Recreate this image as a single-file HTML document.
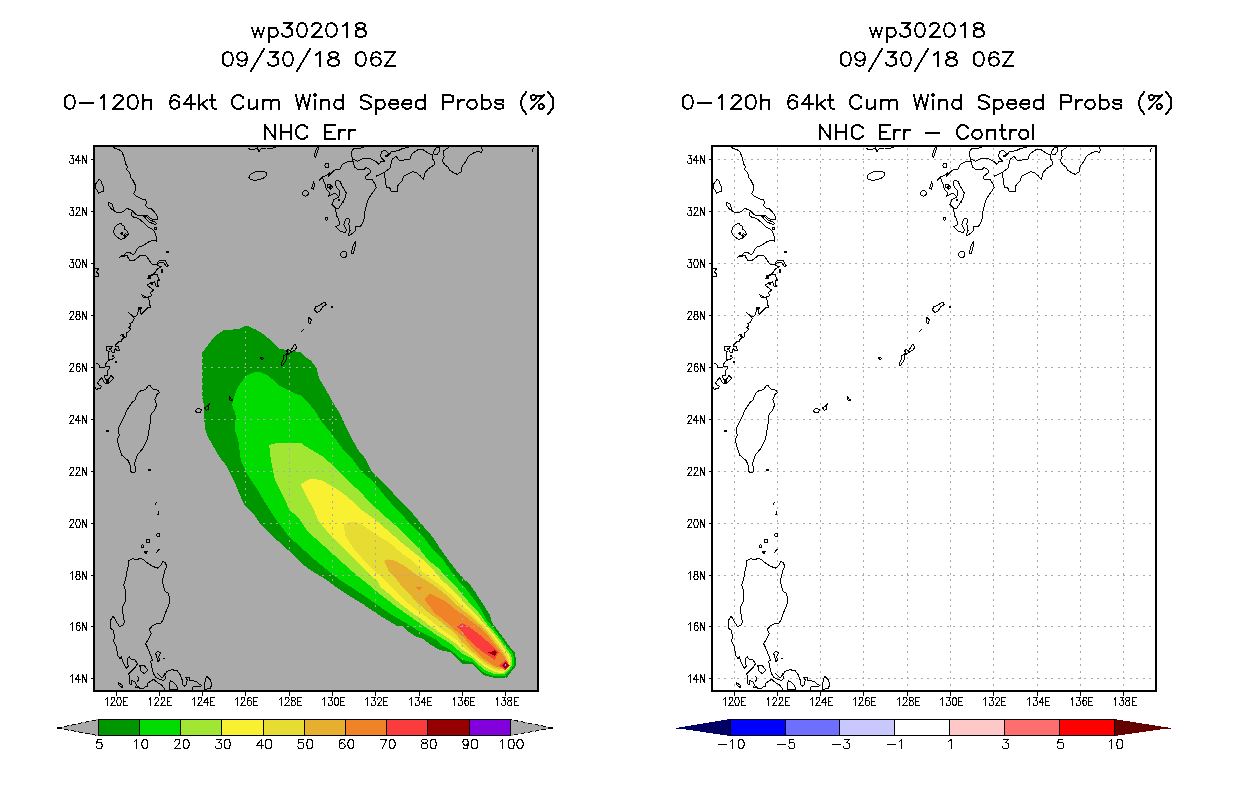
<!DOCTYPE html>
<html lang="en"><head><meta charset="utf-8"><title>wp302018 0-120h 64kt Cum Wind Speed Probs</title>
<style>html,body{margin:0;padding:0;background:#fff}body{width:1236px;height:800px;overflow:hidden;font-family:"Liberation Sans",sans-serif}svg{display:block}.t{font-family:"Liberation Sans",sans-serif;fill:#000;fill-opacity:0;stroke:none}</style></head><body>
<svg width="1236" height="800" viewBox="0 0 1236 800" shape-rendering="crispEdges">
<rect width="1236" height="800" fill="#fff"/>
<defs>
<clipPath id="clipL"><rect x="95" y="147" width="442" height="543"/></clipPath>
<clipPath id="clipR"><rect x="713" y="147" width="442" height="543"/></clipPath>
<g id="coast" fill="none" stroke="#000" stroke-width="1" stroke-linejoin="round" stroke-linecap="square">
<path d="M112.6 146.8 115.1 148.4 119.3 149.7 122.2 152.2 124.3 158.1 125.6 163.9 127.7 167.3 126.4 169 129.8 173.2 130.6 177.3 133.1 180.7 135.6 185.7 135.2 190.7 133.4 193.7 136.9 196.6 141.9 199.1 144.9 199.5 146.5 201.6 145.7 205.4 147.8 207.9 151.1 208.7 154.9 212.6 157 215.9 157.4 219.3 153.7 219.7 150.3 218 147.8 215.9 143.6 215.1 136.9 215.1 134.4 213 132.7 210.5 126.9 208.4 123.5 211.3 119.3 213 116 212.2 113.5 210.1 112.6 204.2 108.4 202.5 108.8 205.9 111.8 209.2 113.5 210.1M132.7 210.5 131 215.1 133.6 217.2 138.6 218.5 143.6 222.6 147.8 226.8 152.8 229.3 155.3 233.5 156.6 237.7 156.2 241.1 152.8 240.2 147.8 242.3 143.6 245.3 139.4 246.9 136.5 249.4 135.6 252.8 133.1 254.5 129.4 252.4 125.2 253.2 124.3 257 121.8 255.7 119.3 257.8 121.8 255.4 126.9 255.4 129.4 260.1 133.6 260.9 140.3 255.4 145.7 255.4 152 264.2 156.2 265.1 159.5 260.1 165.4 260.9 168.3 265.9 167.1 267.2 163.7 262.6 159.5 262.6 157 265.1 161.2 266.8 157 269.3 154.5 273.5 148.6 276 147.8 278.5 152 275.1 157 274.3 158.7 278.5 157 282.7 158.7 286 156.2 286.9 154.5 281.8 151.1 282.7 147 285.2 150.3 287.7 153.7 290.2 150.3 292.7 152 295.6 148.6 296.9 143.6 297.7 141.5 294.4 144.4 296.5 148.6 297.7 149.9 305.3 151.1 307.8 147.8 307.8 141.1 314.5 140.3 310.3 141.9 307 138.6 307.8 137.7 313.7 136.1 316.2 132.7 316.2 128.5 312.8 132.7 315.9 134.4 318.4 131.9 322.6 129.4 323.4 131 325.9 128.5 327.6 131 329.3 128.9 331.4 126.9 332.6 126.9 336.8 124.3 337.2 123.1 334.3 120.6 335.2 121.8 334 123.5 338.5 121 339.8 121.8 341.9 119.3 341.4 116 344.4 115.1 346.9 118.5 346.5 119.3 350.6 116.8 350.2 115.1 348.5 114.3 352.7 111.8 351.9 110.9 349.4 112.6 346 106.8 346.5 106.3 350.6 109.3 351.5 108 355.3 108.4 360.3 111.8 359.4 114.3 357.8 108 361.1 105.9 363.6 105.1 367 99.6 367.4 99.6 365.3 96.7 363.2M105.1 367 109.7 366.7 109.3 368.4 107.2 370.9 107.6 375.1 104.7 375.5 105.1 378.8 108 380.1 110.9 375.5 113.9 378.4 109.3 383 106.3 383.9 104.2 382.2 101.7 377.6 97.5 382.6 98.8 385.1 101.7 386.4 100.1 388.5 97.1 388.1 97.1 390.2 95 387.6M120.5 233.5 123.5 235.5 125.5 233.5 127.5 235M95.9 268.4 98.4 269 96.5 272 98.4 274 98.4 276.8 95.5 276.8M192.2 689.3 193.4 686.1 199.6 686.8 201.5 685.5 199.6 684.3 195.9 681.2 189.7 680.5 189.7 678 185.9 677.4 187.2 679.9 186.6 684.3 184.7 686.1 182.2 684.3 182.2 679.9 180.3 674.9 177.2 670.9 172.2 669.7 167.2 671.2 164.8 674.9 165.4 678.7 163.5 680.5 159.8 679.3 156 677.4 153.5 673.7 151.9 667.5 150.6 661.3 152.5 660 150 653.8 147.5 647.5 145.6 643.8 148.8 638.8 151.3 633.8 149.4 629.4 152.5 625.6 157.5 623.1 160.6 623.8 163.1 620 165.6 612.5 168.8 605 170 598.8 168.1 593.1 165 591.3 162.5 582.5 163.1 577 163.8 575 165 570 166.9 566.3 165 562.5 162.5 561.3 161.3 565 157.5 568.1 152.5 566.3 147.5 563.1 143.8 560 140.6 558.1 136.3 560 133.1 558.5 128.8 560.6 128.1 566.3 126.9 571.3 125.6 579.4 123.8 585 125.6 591.3 125.6 601.3 122.5 606.9 123.1 615 124.4 622.5 122.5 625.6 119.4 626.3 116.3 621.9 114.4 618.1 113.1 616.3 110.6 620 110 628.1 113.1 630 114.4 636.3 113.8 641.3 116.3 646.3 117.5 655 120 658.8 121.3 656.3 123.1 662.5 126.3 668.1 128.1 666.3 127.5 658.8 129.4 656.9 131.3 659.4 135 660 137.5 663.8 135 667.5 128.8 673.8 129.9 678.7 129.6 683.7 131.1 684.9 131.7 680.5 134.9 681.8 136.7 684.9 135.5 687.4 138.6 686.8 139.8 688.6 143.6 688.6 145.4 686.8 147.3 686.1 147.9 683 153.5 679.3 157.3 682.4 161.6 684.9 164.8 689.3M138 676.8 139 679 137.5 681.2M157.9 673.7 160 676 162.3 678 163.5 676 164.8 673.7M248.1 148.6 252.5 149.9 257.5 148 258.8 151.8 261.3 148.6 266.3 148 271.3 148.3 275.6 147.4M318.8 181.1 322.5 176.8 326.3 175.5 329.4 173 328.1 176.8 331.9 172.4 335 169.9 340 169.3 342.5 164.3 347.5 161.8 353.1 161.8 354.4 166.8 357.5 169.3 363.8 169.9 366.3 167.4 370 169.9 370 173 365 176.8 366.3 179.3 372.5 179.9 375 184.3 376.3 187.4 372.5 193 368.8 198 366.3 205.5 364.4 214.3 363.8 221.1 360.6 226.1 355 226.1 355.6 230.5 351.3 234.3 348.1 236.1 350 230.5 348.8 224.3 350 219.3 346.3 218 343.8 224.3 346.3 229.3 345.6 233 340 231.1 335.6 226.8 339.4 224.9 338.8 219.3 336.3 215.5 335.6 208 331.9 204.3 333.8 199.9 338.8 196.8 335 193 328.8 196.1 330 193 326.3 189.3 325 184.3 322.5 178M335.6 208 338.8 208 341.3 204.3 345 198 346.3 193 342.5 186.8 340 181.1 336.3 180.5 335 184 337 188 340 191 338.8 196.8M353.1 161.8 351.9 156.8 351.3 151.8 353.8 148.6 358.8 148.6 363.8 147.4M353.1 159.3 357.5 161.1 362.5 158.6 370 158.6 376.3 161.8 378.8 164.3 381.3 161.1 385 161.8 380.6 156.8 381.3 151.8 385 149.9 388.8 153.6 387 155.5 388.8 155.5 391 151.8 398.5 150.5 402.3 148.6 408.5 147.4M376.3 176.1 384 172.6 390 168 392.3 159.3 396 156.1 399.8 161.1 404.8 159.9 409.8 159.9 411.6 154.3 414.8 151.8 418.5 149.3 423.5 149.9 428.5 153.6 432.3 154.9 432.3 158.6 434.8 161.8 434.1 164.9 428.5 168.6 424.8 173 423.5 179.3 419.8 175.5 416 172.4 412.3 171.8 407.3 174.3 403.5 176.1 402.3 180.5 397.9 185.5 397.3 191.8 391 191.1 389.8 188 386.5 187 385.6 183 384.4 173.2M448.5 147.4 443.5 151.1 444.1 156.8 442.3 160.5 444.8 164.9 447.9 166.8 449.8 170.5 454.1 173 457.3 174.3 461 171.8 462.3 166.1 466 161.1 468.5 156.1 473.5 153 478.5 151.1 481 153 482.3 150.5 481.6 147.4M533.3 148.5 532.5 151M301.5 331.5 303.5 329.7M155 505 156.3 502M158 514.5 159 511M156 553 159 549.5M143.6 215.9 148.6 221.8 154.5 224.3 156.6 223.9 155.3 222.2 150.3 220.1 147 216.8ZM95 184.9 99.2 179.4 100.9 180.7 103.4 187.4 103.4 191.2 100.9 192 98.4 193.3 97.1 189.9 95 188.2ZM113.5 231.4 115 227 117.6 224.3 121 223.5 122.5 225.5 124 226 124.5 229 127 231 128.5 234.4 126 237 124 238.5 121 239.4 116.8 236.9 114.5 234.5ZM149.5 385.1 152.8 388.9 157.8 390.2 159.5 392.7 157 394.3 154.9 399.4 156.6 405.2 154.5 410.3 151.1 414.4 150.3 418.6 150.7 420 149.5 426.7 148.6 433.4 147 440.1 142.8 448.5 137.3 455.2 134.4 463.6 135.6 468.6 134.8 472.6 131.9 472.6 130.6 471.1 130.6 466.9 128.5 461 121.8 455.2 118.5 445.1 117.2 440.1 119.3 435.1 118.1 429.2 119.3 425.9 122.7 420 126.9 410.3 131.9 402.7 134.8 400.2 137.7 393.1 141.1 390.6 145.3 389.7 147.8 386.4ZM139.8 665.6 143.6 665 147.9 670 144.2 673.7 141.1 671.2ZM158.1 651.3 155.6 653.1 156.9 657.5 158.1 661.9 159.4 660 158.8 656.3 160.6 653.1ZM206.5 676.2 210.2 679.9 211.9 684.3 210.2 688.6 204 689.3 204.6 683 205.9 678.7ZM170.4 680.5 172.9 681.8 176 684.9 177.8 689.3 169.7 689.3 169.1 684.9ZM118 682.2 122.4 685.5 122.1 687.6 118.9 684.9ZM146 539 149 539.5 149.5 542 147 542.5ZM144 551 147.5 551 146 553.8ZM318.8 147.4 317.5 151.8 315.6 157.4 314.4 155.5 315.6 150.5 317.5 147.4ZM302.5 192.4 304.4 190.5 307.5 191.1 308.8 194.3 305.6 196.1 302.5 194.9ZM313.8 181.8 312.5 186.1 311.3 188 313.1 189.3 314.4 186.1ZM327.5 184.3 330 184.3 332.5 187 331 189.3 328 187.5ZM436 148 433.5 151.8 434.1 154.3 437.3 154.3 439.8 150.5 439.1 147.4ZM355.6 241.3 355 247.5 353.1 253.8 351.3 253.1 352.5 247.5 354.4 243.1ZM325.6 302.5 326.3 304.4 322.5 306.9 320 311.3 316.9 312.5 314.4 310 315.6 306.9 320 305 323.8 302.5ZM308.8 317.5 311.3 320 310.6 323.1 308.8 323.1 308.1 320ZM294.8 344 296.8 347 295.3 350 291.3 352.1 288.3 354.1 286.3 355.1 286.8 358.1 284.8 362.1 282.8 365.1 281.3 365.1 281.8 362.1 283.3 359.1 283.8 355.6 286.3 354.6 287.8 352.6 286.3 350.5 288.8 349.5 290.3 351.1 292.3 348ZM260.2 358.1 262.2 357.3 263.7 358.3 262.2 359.6ZM229.6 396.2 231.1 399.2 233.1 399.2 232.1 400.7 230.1 400.2 229.1 397.7ZM209.6 403.7 208.6 406.2 208.1 409.7 206.1 410.2 204.5 407.7 207.1 406.7ZM195.5 410.7 198 408.2 201.5 409.7 200.5 412.2 196.5 412.4Z"/>
<ellipse cx="258" cy="175.6" rx="9.2" ry="4.2" transform="rotate(-12 258 175.6)"/>
<ellipse cx="326.9" cy="165.5" rx="2" ry="2" transform="rotate(0 326.9 165.5)"/>
<ellipse cx="343.8" cy="254.4" rx="3" ry="3" transform="rotate(0 343.8 254.4)"/>
<ellipse cx="158.1" cy="535" rx="1.5" ry="1.5" transform="rotate(0 158.1 535)"/>
<ellipse cx="142.5" cy="546.3" rx="1.5" ry="1.5" transform="rotate(0 142.5 546.3)"/>
<ellipse cx="155.3" cy="228.5" rx="1.2" ry="1.2" transform="rotate(0 155.3 228.5)"/>
<ellipse cx="326.3" cy="218.6" rx="1.2" ry="1.6" transform="rotate(20 326.3 218.6)"/>
<rect x="160.5" y="269.5" width="2" height="3" fill="#000" stroke="none"/>
<rect x="157.5" y="279" width="2" height="2" fill="#000" stroke="none"/>
<rect x="156.5" y="284.5" width="2" height="2" fill="#000" stroke="none"/>
<rect x="147.5" y="275.5" width="3" height="3" fill="#000" stroke="none"/>
<rect x="150.5" y="283" width="2" height="2" fill="#000" stroke="none"/>
<rect x="138.5" y="308" width="2" height="2" fill="#000" stroke="none"/>
<rect x="109" y="347.5" width="2" height="2" fill="#000" stroke="none"/>
<rect x="111.5" y="355" width="2" height="2" fill="#000" stroke="none"/>
<rect x="105.5" y="379.5" width="3" height="3" fill="#000" stroke="none"/>
<rect x="385" y="154.5" width="3" height="2" fill="#000" stroke="none"/>
<rect x="329" y="185.5" width="2" height="2" fill="#000" stroke="none"/>
<rect x="338" y="199" width="2" height="2" fill="#000" stroke="none"/>
<rect x="342" y="201" width="2" height="2" fill="#000" stroke="none"/>
<rect x="121" y="231.5" width="2" height="2" fill="#000" stroke="none"/>
<rect x="124" y="234.5" width="2" height="2" fill="#000" stroke="none"/>
<rect x="165.6" y="250.7" width="3" height="2" fill="#000" stroke="none"/>
<rect x="161" y="269.1" width="2" height="2" fill="#000" stroke="none"/>
<rect x="114.5" y="361.3" width="2" height="2" fill="#000" stroke="none"/>
<rect x="105.7" y="429.5" width="3" height="2" fill="#000" stroke="none"/>
<rect x="148" y="468.8" width="3" height="2" fill="#000" stroke="none"/>
<rect x="162.8" y="657.6" width="2" height="1" fill="#000" stroke="none"/>
<rect x="330.9" y="305.9" width="2" height="2" fill="#000" stroke="none"/>
</g>
<path id="grid" d="M116.5 692.4V147M159.5 692.4V147M202.5 692.4V147M245.5 692.4V147M289.5 692.4V147M332.5 692.4V147M375.5 692.4V147M419.5 692.4V147M462.5 692.4V147M505.5 692.4V147M93.26 159.5H537M93.26 211.5H537M93.26 263.5H537M93.26 315.5H537M93.26 367.5H537M93.26 419.5H537M93.26 471.5H537M93.26 523.5H537M93.26 575.5H537M93.26 626.5H537M93.26 678.5H537" fill="none" stroke="#aaa" stroke-width="1" stroke-dasharray="2 4.54"/>
<g id="frame" fill="none" stroke="#000"><path d="M116.5 692V696M159.5 692V696M202.5 692V696M245.5 692V696M289.5 692V696M332.5 692V696M375.5 692V696M419.5 692V696M462.5 692V696M505.5 692V696M90.5 159.5H93M90.5 211.5H93M90.5 263.5H93M90.5 315.5H93M90.5 367.5H93M90.5 419.5H93M90.5 471.5H93M90.5 523.5H93M90.5 575.5H93M90.5 626.5H93M90.5 678.5H93" stroke-width="1"/><rect x="94" y="146" width="444" height="545" stroke-width="2"/></g>
<path id="axlab" d="M105.5 699.5 106.5 698.5 107.5 697.5 107.5 705.5M111.5 699.5 111.5 698.5 111.5 697.5 112.5 697.5 113.5 697.5 114.5 697.5 114.5 698.5 114.5 699.5 114.5 700.5 113.5 701.5 110.5 705.5 115.5 705.5M118.5 697.5 117.5 697.5 117.5 699.5 116.5 700.5 116.5 702.5 117.5 703.5 117.5 705.5 118.5 705.5 119.5 705.5 120.5 705.5 120.5 703.5 121.5 702.5 121.5 700.5 120.5 699.5 120.5 697.5 119.5 697.5 118.5 697.5M123.5 697.5 123.5 705.5M123.5 697.5 127.5 697.5M123.5 701.5 125.5 701.5M123.5 705.5 127.5 705.5M149.5 699.5 149.5 698.5 150.5 697.5 150.5 705.5M154.5 699.5 155.5 698.5 155.5 697.5 156.5 697.5 157.5 697.5 158.5 698.5 158.5 699.5 158.5 700.5 157.5 701.5 154.5 705.5 158.5 705.5M161.5 699.5 161.5 698.5 161.5 697.5 162.5 697.5 163.5 697.5 164.5 697.5 164.5 698.5 164.5 699.5 164.5 700.5 163.5 701.5 160.5 705.5 165.5 705.5M167.5 697.5 167.5 705.5M167.5 697.5 171.5 697.5M167.5 701.5 169.5 701.5M167.5 705.5 171.5 705.5M192.5 699.5 193.5 698.5 194.5 697.5 194.5 705.5M198.5 699.5 198.5 698.5 198.5 697.5 199.5 697.5 200.5 697.5 201.5 697.5 201.5 698.5 201.5 699.5 201.5 700.5 200.5 701.5 197.5 705.5 202.5 705.5M207.5 697.5 203.5 702.5 208.5 702.5M207.5 697.5 207.5 705.5M210.5 697.5 210.5 705.5M210.5 697.5 214.5 697.5M210.5 701.5 212.5 701.5M210.5 705.5 214.5 705.5M235.5 699.5 236.5 698.5 237.5 697.5 237.5 705.5M241.5 699.5 241.5 698.5 241.5 697.5 242.5 697.5 243.5 697.5 244.5 697.5 244.5 698.5 244.5 699.5 244.5 700.5 243.5 701.5 240.5 705.5 245.5 705.5M251.5 698.5 250.5 697.5 249.5 697.5 248.5 697.5 247.5 699.5 247.5 700.5 247.5 702.5 247.5 704.5 248.5 705.5 249.5 705.5 250.5 705.5 251.5 704.5 251.5 703.5 251.5 702.5 251.5 701.5 250.5 700.5 249.5 700.5 248.5 700.5 247.5 701.5 247.5 702.5M253.5 697.5 253.5 705.5M253.5 697.5 257.5 697.5M253.5 701.5 256.5 701.5M253.5 705.5 257.5 705.5M279.5 699.5 280.5 698.5 281.5 697.5 281.5 705.5M285.5 699.5 285.5 698.5 285.5 697.5 286.5 697.5 287.5 697.5 288.5 697.5 288.5 698.5 289.5 699.5 288.5 700.5 288.5 701.5 284.5 705.5 289.5 705.5M292.5 697.5 291.5 697.5 291.5 698.5 291.5 699.5 291.5 700.5 292.5 700.5 293.5 700.5 294.5 701.5 295.5 702.5 295.5 703.5 295.5 704.5 294.5 705.5 293.5 705.5 292.5 705.5 291.5 705.5 291.5 704.5 291.5 703.5 291.5 702.5 292.5 701.5 293.5 700.5 294.5 700.5 295.5 699.5 295.5 698.5 294.5 697.5 293.5 697.5 292.5 697.5M297.5 697.5 297.5 705.5M297.5 697.5 301.5 697.5M297.5 701.5 300.5 701.5M297.5 705.5 301.5 705.5M322.5 699.5 323.5 698.5 324.5 697.5 324.5 705.5M328.5 697.5 332.5 697.5 330.5 700.5 331.5 700.5 332.5 701.5 332.5 702.5 332.5 703.5 332.5 704.5 331.5 705.5 330.5 705.5 329.5 705.5 328.5 705.5 328.5 704.5 328.5 703.5M336.5 697.5 335.5 697.5 334.5 699.5 334.5 700.5 334.5 702.5 334.5 703.5 335.5 705.5 336.5 705.5 337.5 705.5 338.5 703.5 338.5 702.5 338.5 700.5 338.5 699.5 337.5 697.5 336.5 697.5M340.5 697.5 340.5 705.5M340.5 697.5 344.5 697.5M340.5 701.5 343.5 701.5M340.5 705.5 344.5 705.5M365.5 699.5 366.5 698.5 367.5 697.5 367.5 705.5M371.5 697.5 375.5 697.5 373.5 700.5 374.5 700.5 375.5 701.5 375.5 702.5 375.5 703.5 375.5 704.5 374.5 705.5 373.5 705.5 372.5 705.5 371.5 705.5 371.5 704.5 371.5 703.5M377.5 699.5 377.5 698.5 378.5 697.5 380.5 697.5 381.5 698.5 381.5 699.5 381.5 700.5 380.5 701.5 377.5 705.5 381.5 705.5M383.5 697.5 383.5 705.5M383.5 697.5 387.5 697.5M383.5 701.5 386.5 701.5M383.5 705.5 387.5 705.5M409.5 699.5 410.5 698.5 411.5 697.5 411.5 705.5M415.5 697.5 419.5 697.5 417.5 700.5 418.5 700.5 419.5 701.5 419.5 702.5 419.5 703.5 419.5 704.5 418.5 705.5 417.5 705.5 416.5 705.5 415.5 705.5 415.5 704.5 415.5 703.5M424.5 697.5 421.5 702.5 425.5 702.5M424.5 697.5 424.5 705.5M427.5 697.5 427.5 705.5M427.5 697.5 431.5 697.5M427.5 701.5 430.5 701.5M427.5 705.5 431.5 705.5M453.5 699.5 453.5 698.5 454.5 697.5 454.5 705.5M458.5 697.5 462.5 697.5 460.5 700.5 461.5 700.5 462.5 701.5 462.5 702.5 462.5 703.5 462.5 704.5 461.5 705.5 460.5 705.5 459.5 705.5 458.5 705.5 458.5 704.5 458.5 703.5M468.5 698.5 468.5 697.5 467.5 697.5 466.5 697.5 465.5 697.5 465.5 699.5 464.5 700.5 464.5 702.5 465.5 704.5 465.5 705.5 466.5 705.5 467.5 705.5 468.5 704.5 468.5 703.5 468.5 702.5 468.5 701.5 467.5 700.5 466.5 700.5 465.5 700.5 465.5 701.5 464.5 702.5M470.5 697.5 470.5 705.5M470.5 697.5 474.5 697.5M470.5 701.5 473.5 701.5M470.5 705.5 474.5 705.5M496.5 699.5 496.5 698.5 497.5 697.5 497.5 705.5M502.5 697.5 505.5 697.5 503.5 700.5 504.5 700.5 505.5 700.5 505.5 701.5 505.5 702.5 505.5 703.5 505.5 704.5 504.5 705.5 503.5 705.5 502.5 705.5 501.5 704.5 501.5 703.5M509.5 697.5 508.5 697.5 507.5 698.5 507.5 699.5 508.5 700.5 510.5 700.5 510.5 701.5 511.5 702.5 511.5 703.5 511.5 704.5 511.5 705.5 510.5 705.5 509.5 705.5 508.5 705.5 507.5 704.5 507.5 703.5 507.5 702.5 508.5 701.5 509.5 700.5 510.5 700.5 511.5 700.5 511.5 699.5 511.5 698.5 511.5 697.5 510.5 697.5 509.5 697.5M514.5 697.5 514.5 705.5M514.5 697.5 518.5 697.5M514.5 701.5 516.5 701.5M514.5 705.5 518.5 705.5M70.5 155.5 73.5 155.5 71.5 158.5 72.5 158.5 73.5 158.5 73.5 159.5 73.5 160.5 73.5 161.5 73.5 162.5 73.5 163.5 72.5 163.5 71.5 163.5 70.5 163.5 69.5 162.5 69.5 161.5M78.5 155.5 75.5 160.5 80.5 160.5M78.5 155.5 78.5 163.5M82.5 155.5 82.5 163.5M82.5 155.5 86.5 163.5M86.5 155.5 86.5 163.5M70.5 207.5 73.5 207.5 71.5 210.5 72.5 210.5 73.5 210.5 73.5 211.5 73.5 212.5 73.5 213.5 73.5 214.5 73.5 215.5 72.5 215.5 71.5 215.5 70.5 215.5 69.5 214.5 69.5 213.5M76.5 209.5 76.5 208.5 76.5 207.5 77.5 207.5 78.5 207.5 79.5 207.5 79.5 208.5 79.5 209.5 79.5 210.5 78.5 211.5 75.5 215.5 80.5 215.5M82.5 207.5 82.5 215.5M82.5 207.5 86.5 215.5M86.5 207.5 86.5 215.5M70.5 259.5 73.5 259.5 71.5 262.5 72.5 262.5 73.5 262.5 73.5 263.5 73.5 264.5 73.5 265.5 73.5 266.5 73.5 267.5 72.5 267.5 71.5 267.5 70.5 267.5 69.5 266.5 69.5 265.5M77.5 259.5 76.5 259.5 76.5 261.5 75.5 262.5 75.5 264.5 76.5 265.5 76.5 267.5 77.5 267.5 78.5 267.5 79.5 267.5 79.5 265.5 80.5 264.5 80.5 262.5 79.5 261.5 79.5 259.5 78.5 259.5 77.5 259.5M82.5 259.5 82.5 267.5M82.5 259.5 86.5 267.5M86.5 259.5 86.5 267.5M69.5 313.5 70.5 312.5 70.5 311.5 71.5 311.5 72.5 311.5 73.5 311.5 73.5 312.5 73.5 313.5 73.5 314.5 72.5 315.5 69.5 319.5 73.5 319.5M77.5 311.5 76.5 311.5 76.5 312.5 76.5 313.5 76.5 314.5 77.5 314.5 78.5 314.5 79.5 315.5 79.5 316.5 80.5 316.5 80.5 317.5 79.5 318.5 79.5 319.5 78.5 319.5 77.5 319.5 76.5 319.5 76.5 318.5 75.5 317.5 75.5 316.5 76.5 316.5 76.5 315.5 77.5 314.5 78.5 314.5 79.5 314.5 79.5 313.5 79.5 312.5 79.5 311.5 78.5 311.5 77.5 311.5M82.5 311.5 82.5 319.5M82.5 311.5 86.5 319.5M86.5 311.5 86.5 319.5M69.5 365.5 70.5 364.5 70.5 363.5 71.5 363.5 72.5 363.5 73.5 363.5 73.5 364.5 73.5 365.5 73.5 366.5 72.5 367.5 69.5 371.5 73.5 371.5M79.5 364.5 79.5 363.5 78.5 363.5 77.5 363.5 76.5 365.5 76.5 366.5 76.5 368.5 76.5 370.5 77.5 371.5 78.5 371.5 79.5 371.5 79.5 370.5 80.5 369.5 80.5 368.5 79.5 367.5 79.5 366.5 78.5 366.5 77.5 366.5 76.5 367.5 76.5 368.5M82.5 363.5 82.5 371.5M82.5 363.5 86.5 371.5M86.5 363.5 86.5 371.5M69.5 417.5 70.5 416.5 70.5 415.5 71.5 415.5 72.5 415.5 73.5 415.5 73.5 416.5 73.5 417.5 73.5 418.5 72.5 419.5 69.5 423.5 73.5 423.5M78.5 415.5 75.5 420.5 80.5 420.5M78.5 415.5 78.5 423.5M82.5 415.5 82.5 423.5M82.5 415.5 86.5 423.5M86.5 415.5 86.5 423.5M69.5 469.5 70.5 468.5 70.5 467.5 71.5 467.5 72.5 467.5 73.5 467.5 73.5 468.5 73.5 469.5 73.5 470.5 72.5 471.5 69.5 475.5 73.5 475.5M76.5 469.5 76.5 468.5 76.5 467.5 77.5 467.5 78.5 467.5 79.5 467.5 79.5 468.5 79.5 469.5 79.5 470.5 78.5 471.5 75.5 475.5 80.5 475.5M82.5 467.5 82.5 475.5M82.5 467.5 86.5 475.5M86.5 467.5 86.5 475.5M69.5 521.5 70.5 520.5 70.5 519.5 71.5 519.5 72.5 519.5 73.5 519.5 73.5 520.5 73.5 521.5 73.5 522.5 72.5 523.5 69.5 527.5 73.5 527.5M77.5 519.5 76.5 519.5 76.5 521.5 75.5 522.5 75.5 524.5 76.5 525.5 76.5 527.5 77.5 527.5 78.5 527.5 79.5 527.5 79.5 525.5 80.5 524.5 80.5 522.5 79.5 521.5 79.5 519.5 78.5 519.5 77.5 519.5M82.5 519.5 82.5 527.5M82.5 519.5 86.5 527.5M86.5 519.5 86.5 527.5M70.5 573.5 71.5 572.5 72.5 571.5 72.5 579.5M77.5 571.5 76.5 571.5 76.5 572.5 76.5 573.5 76.5 574.5 77.5 574.5 78.5 574.5 79.5 575.5 79.5 576.5 80.5 576.5 80.5 577.5 79.5 578.5 79.5 579.5 78.5 579.5 77.5 579.5 76.5 579.5 76.5 578.5 75.5 577.5 75.5 576.5 76.5 576.5 76.5 575.5 77.5 574.5 78.5 574.5 79.5 574.5 79.5 573.5 79.5 572.5 79.5 571.5 78.5 571.5 77.5 571.5M82.5 571.5 82.5 579.5M82.5 571.5 86.5 579.5M86.5 571.5 86.5 579.5M70.5 624.5 71.5 623.5 72.5 622.5 72.5 630.5M79.5 623.5 79.5 622.5 78.5 622.5 77.5 622.5 76.5 624.5 76.5 625.5 76.5 627.5 76.5 629.5 77.5 630.5 78.5 630.5 79.5 630.5 79.5 629.5 80.5 628.5 80.5 627.5 79.5 626.5 79.5 625.5 78.5 625.5 77.5 625.5 76.5 626.5 76.5 627.5M82.5 622.5 82.5 630.5M82.5 622.5 86.5 630.5M86.5 622.5 86.5 630.5M70.5 676.5 71.5 675.5 72.5 674.5 72.5 682.5M78.5 674.5 75.5 679.5 80.5 679.5M78.5 674.5 78.5 682.5M82.5 674.5 82.5 682.5M82.5 674.5 86.5 682.5M86.5 674.5 86.5 682.5" fill="none" stroke="#000" stroke-width="1" stroke-linecap="square" stroke-linejoin="round"/>
</defs>
<rect x="94" y="146" width="444" height="545" fill="#aaaaaa"/>
<g clip-path="url(#clipL)">
<path d="M245 325.8 248.3 326.3 256.7 330 264.7 335 270.3 340 279.3 348.5 286.3 350 300.4 352.1 305.4 357.1 311.4 361.1 316.7 368.3 319.2 378.3 325 388 332.5 401.7 340.8 415 346 427 352.5 440 358.3 450 365 458.3 370.8 470 375.8 475.8 389.2 488.3 396.7 497.5 408.3 508.3 420 522.5 432.5 536.7 440 548.3 448.3 560 458.3 573 464.9 580 470.2 584.9 475.9 593 480 599.5 490 615 491.2 620 493.6 624.9 498.5 631.4 504.2 638.7 509.1 646 514.7 652.1 516 659.8 515.5 666.3 506.6 677.7 493.6 677.7 483.9 675.2 472.5 664.3 461.9 663.9 450.6 652.1 440 650.1 430.4 644.6 422.2 638.5 414.9 636 406.8 630.4 402.7 626.7 396.2 625.5 388.1 620.6 380 615.7 375 612.5 362.5 603.8 350 596.3 337.5 588.1 325 578.8 312.5 571.3 302.5 564.4 295 556.3 282.5 545 270 533.8 259.2 522.5 253.3 513.3 244.2 505 235 483.3 225.8 465 219.2 456.7 212 444 208 437 205 428.3 204 414.8 203.5 403.2 201.5 395.2 201.5 361.1 202 353.1 205 349 213.1 338 216.1 335 224.2 330 238.3 329.2Z" fill="#009600"/>
<path d="M256.2 371.6 260.2 372.1 267.2 375.1 273.3 380.1 278.3 385.2 286.3 389.2 294.3 393.2 300.4 395.2 307.4 402.2 314 409.2 321.7 421.7 333.3 435.8 340.8 446.7 352.5 459.2 362.5 472.5 373.3 481.7 386.7 498.3 397.5 510 410 523.3 423.3 536.7 433.3 550 443.3 560 453.3 574.2 458 580 465.3 588.1 471.8 596.2 480 607.6 486.7 620 490.4 624.1 496.1 631.4 501.7 638.7 507.4 646.8 513.1 653.3 514.3 659.8 513.5 666.3 505 676.1 494.4 676.1 483.9 672.8 472.5 662.2 461.9 659.8 449.7 649.2 441 644.8 436.9 640.1 428.7 636 420.6 632 412.5 627.1 404.4 622.2 396.2 617.4 388.1 612.5 380 606.8 377.5 605 365 596.3 352.5 588.1 340 580 328.8 571.3 315 560 302.5 548.8 288.8 536.3 276.3 520 265 502.5 256.7 488.3 246.7 473.3 240.8 460 238.3 440 235 430 235.7 416 234.6 411.2 232.1 405.2 233.1 400.2 234.6 395.2 237.2 388.2 242.2 381.1 246.2 376.1 252.2 373.1Z" fill="#00dc00"/>
<path d="M269.2 445 278.3 442.5 300.8 443 306.7 447 321.7 455.8 331.7 464.2 340 472.5 350 482.5 360 491.7 370.8 503.3 381.7 513.3 395 525 406.7 536.7 418.3 547.5 428.3 560 438.3 568 449 580 457.2 588.1 464.5 597.1 471.8 605.2 480 614.1 483.9 620 487.1 624.1 493.6 631.4 499.3 638.7 505 646.8 510.7 654.1 512.3 659.8 511.5 666.3 504.2 674.4 495.2 674.4 483.9 669.6 472.5 659 461.9 653.3 451 644 445 640.1 436.9 635.2 428.7 629.5 420.6 623.9 412.5 618.2 404.4 612.5 396.2 606.8 388.1 600.3 380 594.4 367.5 583.8 355 573.8 343.8 563.8 331.3 552.5 320 542.5 307.5 531.3 300 520 296.7 515.8 290 510.8 283.3 496.7 275 480 270.8 460Z" fill="#a0e632"/>
<path d="M300.8 484.2 310 478.7 321.7 480 328.3 484.2 338.3 490 348.3 497.5 361.7 510 375.8 520 390 532.5 403.3 544.2 415 553.3 423.3 560 431.7 568 441.7 580 449.9 587.3 458 595.4 466.1 604.4 473.4 611.7 477.5 615.5 481.5 621 485.5 624.9 492 632.2 497.7 639.5 503.4 647.6 509.1 654.9 510.7 660.6 509.9 666.3 504.2 672.8 495.2 672.4 483.9 666.3 472.5 656.6 461.9 649.2 455 643 445 636 436.9 630.4 428.7 624.7 420.6 618.2 412.5 613.3 404.4 606.8 396.2 600.3 388.1 593 380 586.5 377.5 581.3 366.3 571.3 355 560 343.8 548.8 332.5 537.5 323.8 527.5 318.1 520 313.3 508.3 306.7 496.7Z" fill="#faf032"/>
<path d="M343.8 523.8 355 521.5 362.5 525 375 533.8 382.5 538.8 388.3 541.7 401.7 553.3 411.7 560 423.3 572.5 432.8 580 441.7 586.5 449.9 593.8 457.2 601.1 465.3 608.4 472.6 614.9 477.4 620 483.9 625.7 490.4 633 496.1 640.3 501.7 647.6 507.4 655.7 509.1 661.4 508.6 666.3 504.2 671.2 495.2 670.4 483.9 663.9 472.5 654.1 461.9 646 457.2 640.1 449 634.4 440.9 628.7 432.8 622.2 424.7 615.7 416.6 610 408.4 603.6 400.3 595.4 392.2 587.3 384.9 580 376.3 572.5 365 561.3 353.8 548.8 345 535Z" fill="#e6dc32"/>
<path d="M384.4 561.3 386.9 559.4 395 560.6 405 566.3 415 573.8 425.5 580 432 584.1 438.5 588.9 445.8 594.6 451.5 600.3 458 606 464.5 611.7 471 616.6 474.1 620 482.2 626.5 488.7 633.8 494.4 641.1 500.1 648.4 505.8 656.6 507.8 662.2 507.4 666.3 504.2 669.6 495.2 668.3 483.9 661.4 472.5 651.7 461.9 642 454.7 632.8 446.6 626.3 438.5 619.8 430.4 614.1 422.2 606.8 414.9 600.3 408.4 593 401.1 585.7 397 580 388.8 571.3Z" fill="#e6af2d"/>
<path d="M429.6 593.4 436.9 597.1 445 601.1 451.5 606 458 611.7 464.5 615.7 471 621 480.6 628.1 487.1 634.6 492.8 641.9 498.5 649.2 504.2 656.6 506.6 662.2 506.2 665.9 503.4 668.3 495.2 666.3 483.9 659 472.5 648 464.5 638 457.2 632 449.9 625.5 441.7 618.2 434.4 613.3 430.4 606.8 424.3 599.9Z" fill="#f08228"/>
<path d="M462.3 623.2 467.6 625.7 474.1 630.6 480.6 635.4 487.1 641.1 492.8 646.8 496.9 650.9 498.5 652.5 496.9 655.7 494.4 659.8 488.7 655.7 482.2 651.7 474.9 645.2 467.6 638.7 462.7 632.2 457.5 626.5Z" fill="#fa3c3c"/>
<path d="M487.9 652.5 492 651.7 494.8 650.1 496.9 652.5 494.8 655.7 492 654.5Z" fill="#960000"/>
<path d="M499 665.5 505.5 660 510 665.5 505.5 670.5Z" fill="#fa3c3c"/>
<path d="M502 665.5 505.5 662.1 508.7 665.5 505.5 668.7Z" fill="#960000"/>
<path d="M504 665.5 505.5 664 507 665.5 505.5 667Z" fill="#8200dc"/>
<use href="#grid"/>
<path d="M416.1 587.1 421.8 587.1 419.4 590.6Z" fill="#f08228"/>
<use href="#coast"/>
</g>
<use href="#frame"/><use href="#axlab"/>
<g clip-path="url(#clipR)"><use href="#grid" x="618"/><use href="#coast" x="618"/></g>
<use href="#frame" x="618"/><use href="#axlab" x="618"/>
<path d="M252 28 255 37M258 28 255 37M258 28 261 37M264 28 261 37M269 28 269 42M269 30 270 28 272 28 274 28 276 28 277 30 278 32 278 33 277 35 276 36 274 37 272 37 270 36 269 35M284 23 292 23 287 28 290 28 291 29 292 30 292 32 292 33 292 35 290 36 288 37 286 37 284 36 283 36 282 34M301 23 299 24 298 26 297 29 297 31 298 34 299 36 301 37 303 37 305 36 306 34 307 31 307 29 306 26 305 24 303 23 301 23M312 26 313 24 314 24 315 23 318 23 320 24 321 26 321 27 320 28 319 30 312 37 322 37M331 23 328 24 327 26 326 29 326 31 327 34 328 36 331 37 332 37 334 36 336 34 337 31 337 29 336 26 334 24 332 23 331 23M343 26 345 25 347 23 347 37M359 23 357 24 356 25 356 26 357 28 359 28 362 29 364 30 365 31 366 32 366 34 365 36 364 36 362 37 359 37 357 36 356 36 356 34 356 32 356 31 358 30 360 29 363 28 364 28 365 26 365 25 364 24 362 23 359 23M227 52 225 53 223 55 223 58 223 60 223 63 225 65 227 66 228 66 231 65 232 63 233 60 233 58 232 55 231 53 228 52 227 52M247 57 246 59 245 60 242 61 239 60 238 59 237 57 237 56 238 54 239 53 242 52 245 53 246 54 247 57 247 60 246 63 245 65 242 66 241 66 239 65 238 64M264 49 251 71M270 52 278 52 273 57 275 57 277 58 278 59 278 61 278 62 278 64 276 65 274 66 272 66 270 65 269 65 268 63M287 52 285 53 284 55 283 58 283 60 284 63 285 65 287 66 289 66 291 65 292 63 293 60 293 58 292 55 291 53 289 52 287 52M310 49 297 71M316 55 317 54 320 52 320 66M332 52 330 53 329 54 329 55 330 57 331 57 334 58 336 59 338 60 339 61 339 63 338 65 337 65 335 66 332 66 330 65 329 65 328 63 328 61 329 60 331 59 333 58 336 57 337 57 338 55 338 54 337 53 335 52 332 52M360 52 358 53 356 55 356 58 356 60 356 63 358 65 360 66 362 66 364 65 365 63 366 60 366 58 365 55 364 53 362 52 360 52M380 54 379 53 377 52 376 52 373 53 372 55 371 58 371 61 372 64 373 65 376 66 379 65 380 64 381 62 381 61 380 59 379 58 376 57 373 58 372 59 371 61M395 52 385 66M385 52 395 52M385 66 395 66M69 95 67 96 65 98 65 101 65 103 65 106 67 108 69 109 70 109 73 108 74 106 75 103 75 101 74 98 73 96 70 95 69 95M80 103 93 103M101 98 102 97 104 95 104 109M114 98 115 96 117 95 120 95 121 96 122 96 123 98 123 99 122 100 120 102 113 109 123 109M132 95 130 96 128 98 128 101 128 103 128 106 130 108 132 109 134 109 136 108 137 106 138 103 138 101 137 98 136 96 134 95 132 95M143 95 143 109M143 102 145 100 147 100 149 100 151 100 151 102 151 109M179 97 178 96 176 95 174 95 172 96 171 98 170 101 170 104 171 107 172 108 174 109 175 109 177 108 179 107 179 105 179 104 179 102 177 101 175 100 174 100 172 101 171 102 170 104M191 95 184 104 195 104M191 95 191 109M199 95 199 109M207 100 199 106M202 104 207 109M212 95 212 106 213 108 215 109 216 109M210 100 215 100M243 98 243 97 241 96 240 95 237 95 235 96 234 97 233 98 232 100 232 104 233 106 234 107 235 108 237 109 240 109 241 108 243 107 243 106M249 100 249 106 249 108 251 109 253 109 254 108 257 106M257 100 257 109M263 100 263 109M263 102 265 100 266 100 268 100 270 100 271 102 271 109M271 102 273 100 274 100 277 100 278 100 279 102 279 109M296 95 299 109M303 95 299 109M303 95 307 109M310 95 307 109M314 95 315 96 316 95 315 94 314 95M315 100 315 109M321 100 321 109M321 102 323 100 324 100 327 100 328 100 329 102 329 109M343 95 343 109M343 102 341 100 340 100 338 100 336 100 335 102 334 104 334 105 335 107 336 108 338 109 340 109 341 108 343 107M371 97 369 96 367 95 364 95 362 96 361 97 361 98 361 100 362 100 364 101 368 102 369 103 370 104 371 105 371 107 369 108 367 109 364 109 362 108 361 107M376 100 376 114M376 102 378 100 379 100 381 100 383 100 384 102 385 104 385 105 384 107 383 108 381 109 379 109 378 108 376 107M389 104 398 104 398 102 397 101 397 100 395 100 393 100 391 100 390 102 389 104 389 105 390 107 391 108 393 109 395 109 397 108 398 107M402 104 411 104 411 102 411 101 410 100 408 100 406 100 405 100 403 102 402 104 402 105 403 107 405 108 406 109 408 109 410 108 411 107M425 95 425 109M425 102 423 100 422 100 419 100 418 100 416 102 416 104 416 105 416 107 418 108 419 109 422 109 423 108 425 107M443 95 443 109M443 95 450 95 452 96 453 96 453 98 453 100 453 101 452 102 450 102 443 102M458 100 458 109M458 104 459 102 461 100 462 100 464 100M471 100 470 100 468 102 467 104 467 105 468 107 470 108 471 109 473 109 475 108 476 107 477 105 477 104 476 102 475 100 473 100 471 100M482 95 482 109M482 102 483 100 485 100 487 100 489 100 490 102 491 104 491 105 490 107 489 108 487 109 485 109 483 108 482 107M503 102 503 100 500 100 498 100 496 100 495 102 496 103 497 104 501 104 503 105 503 106 503 107 503 108 500 109 498 109 496 108 495 107M526 92 525 94 523 96 522 98 521 102 521 104 522 108 523 110 525 112 526 114M544 95 531 109M534 95 536 96 536 98 535 99 534 100 532 100 531 98 531 97 531 96 533 95 534 95 536 96 538 96 540 96 542 96 544 95M541 104 539 105 539 106 539 108 540 109 542 109 543 108 544 107 544 106 542 104 541 104M548 92 550 94 551 96 553 98 553 102 553 104 553 108 551 110 550 112 548 114M870 28 873 37M876 28 873 37M876 28 879 37M882 28 879 37M887 28 887 42M887 30 888 28 890 28 892 28 894 28 895 30 896 32 896 33 895 35 894 36 892 37 890 37 888 36 887 35M902 23 910 23 905 28 908 28 909 29 910 30 910 32 910 33 910 35 908 36 906 37 904 37 902 36 901 36 900 34M919 23 917 24 916 26 915 29 915 31 916 34 917 36 919 37 921 37 923 36 924 34 925 31 925 29 924 26 923 24 921 23 919 23M930 26 931 24 932 24 933 23 936 23 938 24 939 26 939 27 938 28 937 30 930 37 940 37M949 23 946 24 945 26 944 29 944 31 945 34 946 36 949 37 950 37 952 36 954 34 955 31 955 29 954 26 952 24 950 23 949 23M961 26 963 25 965 23 965 37M977 23 975 24 974 25 974 26 975 28 977 28 980 29 982 30 983 31 984 32 984 34 983 36 982 36 980 37 977 37 975 36 974 36 974 34 974 32 974 31 976 30 978 29 981 28 982 28 983 26 983 25 982 24 980 23 977 23M845 52 843 53 841 55 841 58 841 60 841 63 843 65 845 66 846 66 849 65 850 63 851 60 851 58 850 55 849 53 846 52 845 52M865 57 864 59 863 60 860 61 857 60 856 59 855 57 855 56 856 54 857 53 860 52 863 53 864 54 865 57 865 60 864 63 863 65 860 66 859 66 857 65 856 64M882 49 869 71M888 52 896 52 891 57 893 57 895 58 896 59 896 61 896 62 896 64 894 65 892 66 890 66 888 65 887 65 886 63M905 52 903 53 902 55 901 58 901 60 902 63 903 65 905 66 907 66 909 65 910 63 911 60 911 58 910 55 909 53 907 52 905 52M928 49 915 71M934 55 935 54 938 52 938 66M950 52 948 53 947 54 947 55 948 57 949 57 952 58 954 59 956 60 957 61 957 63 956 65 955 65 953 66 950 66 948 65 947 65 946 63 946 61 947 60 949 59 951 58 954 57 955 57 956 55 956 54 955 53 953 52 950 52M978 52 976 53 974 55 974 58 974 60 974 63 976 65 978 66 980 66 982 65 983 63 984 60 984 58 983 55 982 53 980 52 978 52M998 54 997 53 995 52 994 52 991 53 990 55 989 58 989 61 990 64 991 65 994 66 997 65 998 64 999 62 999 61 998 59 997 58 994 57 991 58 990 59 989 61M1013 52 1003 66M1003 52 1013 52M1003 66 1013 66M687 95 685 96 683 98 683 101 683 103 683 106 685 108 687 109 688 109 691 108 692 106 693 103 693 101 692 98 691 96 688 95 687 95M698 103 711 103M719 98 720 97 722 95 722 109M732 98 733 96 735 95 738 95 739 96 740 96 741 98 741 99 740 100 738 102 731 109 741 109M750 95 748 96 746 98 746 101 746 103 746 106 748 108 750 109 752 109 754 108 755 106 756 103 756 101 755 98 754 96 752 95 750 95M761 95 761 109M761 102 763 100 765 100 767 100 769 100 769 102 769 109M797 97 796 96 794 95 792 95 790 96 789 98 788 101 788 104 789 107 790 108 792 109 793 109 795 108 797 107 797 105 797 104 797 102 795 101 793 100 792 100 790 101 789 102 788 104M809 95 802 104 813 104M809 95 809 109M817 95 817 109M825 100 817 106M820 104 825 109M830 95 830 106 831 108 833 109 834 109M828 100 833 100M861 98 861 97 859 96 858 95 855 95 853 96 852 97 851 98 850 100 850 104 851 106 852 107 853 108 855 109 858 109 859 108 861 107 861 106M867 100 867 106 867 108 869 109 871 109 872 108 875 106M875 100 875 109M881 100 881 109M881 102 883 100 884 100 886 100 888 100 889 102 889 109M889 102 891 100 892 100 895 100 896 100 897 102 897 109M914 95 917 109M921 95 917 109M921 95 925 109M928 95 925 109M932 95 933 96 934 95 933 94 932 95M933 100 933 109M939 100 939 109M939 102 941 100 942 100 945 100 946 100 947 102 947 109M961 95 961 109M961 102 959 100 958 100 956 100 954 100 953 102 952 104 952 105 953 107 954 108 956 109 958 109 959 108 961 107M989 97 987 96 985 95 982 95 980 96 979 97 979 98 979 100 980 100 982 101 986 102 987 103 988 104 989 105 989 107 987 108 985 109 982 109 980 108 979 107M994 100 994 114M994 102 996 100 997 100 999 100 1001 100 1002 102 1003 104 1003 105 1002 107 1001 108 999 109 997 109 996 108 994 107M1007 104 1016 104 1016 102 1015 101 1015 100 1013 100 1011 100 1009 100 1008 102 1007 104 1007 105 1008 107 1009 108 1011 109 1013 109 1015 108 1016 107M1020 104 1029 104 1029 102 1029 101 1028 100 1026 100 1024 100 1023 100 1021 102 1020 104 1020 105 1021 107 1023 108 1024 109 1026 109 1028 108 1029 107M1043 95 1043 109M1043 102 1041 100 1040 100 1037 100 1036 100 1034 102 1034 104 1034 105 1034 107 1036 108 1037 109 1040 109 1041 108 1043 107M1061 95 1061 109M1061 95 1068 95 1070 96 1071 96 1071 98 1071 100 1071 101 1070 102 1068 102 1061 102M1076 100 1076 109M1076 104 1077 102 1079 100 1080 100 1082 100M1089 100 1088 100 1086 102 1085 104 1085 105 1086 107 1088 108 1089 109 1091 109 1093 108 1094 107 1095 105 1095 104 1094 102 1093 100 1091 100 1089 100M1100 95 1100 109M1100 102 1101 100 1103 100 1105 100 1107 100 1108 102 1109 104 1109 105 1108 107 1107 108 1105 109 1103 109 1101 108 1100 107M1121 102 1121 100 1118 100 1116 100 1114 100 1113 102 1114 103 1115 104 1119 104 1121 105 1121 106 1121 107 1121 108 1118 109 1116 109 1114 108 1113 107M1144 92 1143 94 1141 96 1140 98 1139 102 1139 104 1140 108 1141 110 1143 112 1144 114M1162 95 1149 109M1152 95 1154 96 1154 98 1153 99 1152 100 1150 100 1149 98 1149 97 1149 96 1151 95 1152 95 1154 96 1156 96 1158 96 1160 96 1162 95M1159 104 1157 105 1157 106 1157 108 1158 109 1160 109 1161 108 1162 107 1162 106 1160 104 1159 104M1166 92 1168 94 1169 96 1171 98 1171 102 1171 104 1171 108 1169 110 1168 112 1166 114M265 125 265 139M265 125 275 139M275 125 275 139M281 125 281 139M291 125 291 139M281 132 291 132M307 128 307 127 305 126 304 125 301 125 299 126 298 127 297 128 296 130 296 134 297 136 298 137 299 138 301 139 304 139 305 138 307 137 307 136M325 125 325 139M325 125 335 125M325 132 331 132M325 139 335 139M339 130 339 139M339 134 340 132 341 130 343 130 345 130M349 130 349 139M349 134 349 132 351 130 352 130 355 130M820 125 820 139M820 125 830 139M830 125 830 139M836 125 836 139M846 125 846 139M836 132 846 132M863 128 862 127 860 126 859 125 856 125 854 126 853 127 852 128 852 130 852 134 852 136 853 137 854 138 856 139 859 139 860 138 862 137 863 136M880 125 880 139M880 125 890 125M880 132 886 132M880 139 890 139M894 130 894 139M894 134 895 132 896 130 898 130 900 130M904 130 904 139M904 134 905 132 906 130 908 130 910 130M926 133 939 133M968 128 967 127 966 126 964 125 961 125 960 126 959 127 958 128 957 130 957 134 958 136 959 137 960 138 961 139 964 139 966 138 967 137 968 136M976 130 975 130 973 132 972 134 972 135 973 137 975 138 976 139 978 139 980 138 981 137 982 135 982 134 981 132 980 130 978 130 976 130M987 130 987 139M987 132 989 130 991 130 993 130 995 130 995 132 995 139M1002 125 1002 136 1003 138 1004 139 1006 139M1000 130 1005 130M1010 130 1010 139M1010 134 1011 132 1012 130 1014 130 1016 130M1022 130 1021 130 1020 132 1019 134 1019 135 1020 137 1021 138 1022 139 1025 139 1026 138 1028 137 1028 135 1028 134 1028 132 1026 130 1025 130 1022 130M1033 125 1033 139" fill="none" stroke="#000" stroke-width="1.8" stroke-linecap="round" stroke-linejoin="round"/>
<rect x="98" y="719" width="41" height="17" fill="#009600"/>
<rect x="139" y="719" width="41" height="17" fill="#00dc00"/>
<rect x="180" y="719" width="41" height="17" fill="#a0e632"/>
<rect x="221" y="719" width="42" height="17" fill="#faf032"/>
<rect x="263" y="719" width="41" height="17" fill="#e6dc32"/>
<rect x="304" y="719" width="41" height="17" fill="#e6af2d"/>
<rect x="345" y="719" width="41" height="17" fill="#f08228"/>
<rect x="386" y="719" width="41" height="17" fill="#fa3c3c"/>
<rect x="427" y="719" width="42" height="17" fill="#960000"/>
<rect x="469" y="719" width="41" height="17" fill="#8200dc"/>
<path d="M98 719L57.5 728L98 736Z" fill="#aaaaaa"/>
<path d="M510 719L552.7 728L510 736Z" fill="#aaaaaa"/>
<path d="M57.5 728H98" stroke="#aaaaaa" stroke-width="1" fill="none"/><path d="M510 728H552.7" stroke="#aaaaaa" stroke-width="1" fill="none"/>
<path d="M57.5 728L98 719.5M57.5 728L98 735.5M552.7 728L510 719.5M552.7 728L510 735.5" fill="none" stroke="#000" stroke-width="1" stroke-dasharray="4.5 2.5"/>
<path d="M98 719.5H511M98 735.5H511M98.5 719V736M139.5 719V736M180.5 719V736M221.5 719V736M263.5 719V736M304.5 719V736M345.5 719V736M386.5 719V736M427.5 719V736M469.5 719V736M510.5 719V736" fill="none" stroke="#000" stroke-width="1"/>
<path d="M101.5 739.5 97.5 739.5 96.5 743.5 97.5 742.5 98.5 742.5 99.5 742.5 101.5 742.5 101.5 743.5 102.5 745.5 101.5 747.5 101.5 748.5 99.5 748.5 98.5 748.5 97.5 748.5 96.5 747.5 96.5 746.5M134.5 741.5 135.5 740.5 136.5 739.5 136.5 748.5M144.5 739.5 143.5 739.5 142.5 741.5 141.5 743.5 141.5 744.5 142.5 746.5 143.5 748.5 144.5 748.5 145.5 748.5 146.5 748.5 147.5 746.5 147.5 744.5 147.5 743.5 147.5 741.5 146.5 739.5 145.5 739.5 144.5 739.5M174.5 741.5 175.5 740.5 175.5 739.5 176.5 739.5 178.5 739.5 179.5 739.5 179.5 740.5 179.5 741.5 179.5 742.5 178.5 744.5 174.5 748.5 180.5 748.5M185.5 739.5 184.5 739.5 183.5 741.5 183.5 743.5 183.5 744.5 183.5 746.5 184.5 748.5 185.5 748.5 186.5 748.5 187.5 748.5 188.5 746.5 189.5 744.5 189.5 743.5 188.5 741.5 187.5 739.5 186.5 739.5 185.5 739.5M216.5 739.5 221.5 739.5 218.5 742.5 219.5 742.5 220.5 743.5 221.5 743.5 221.5 745.5 221.5 747.5 220.5 748.5 218.5 748.5 217.5 748.5 216.5 748.5 215.5 747.5 215.5 746.5M226.5 739.5 225.5 739.5 224.5 741.5 224.5 743.5 224.5 744.5 224.5 746.5 225.5 748.5 226.5 748.5 227.5 748.5 229.5 748.5 229.5 746.5 230.5 744.5 230.5 743.5 229.5 741.5 229.5 739.5 227.5 739.5 226.5 739.5M261.5 739.5 256.5 745.5 263.5 745.5M261.5 739.5 261.5 748.5M268.5 739.5 266.5 739.5 265.5 741.5 265.5 743.5 265.5 744.5 265.5 746.5 266.5 748.5 268.5 748.5 270.5 748.5 271.5 746.5 271.5 744.5 271.5 743.5 271.5 741.5 270.5 739.5 268.5 739.5M303.5 739.5 298.5 739.5 298.5 743.5 298.5 742.5 300.5 742.5 301.5 742.5 302.5 742.5 303.5 743.5 303.5 745.5 303.5 747.5 302.5 748.5 301.5 748.5 300.5 748.5 298.5 748.5 298.5 747.5 297.5 746.5M309.5 739.5 307.5 739.5 307.5 741.5 306.5 743.5 306.5 744.5 307.5 746.5 307.5 748.5 309.5 748.5 310.5 748.5 311.5 748.5 312.5 746.5 312.5 744.5 312.5 743.5 312.5 741.5 311.5 739.5 310.5 739.5 309.5 739.5M344.5 740.5 344.5 739.5 343.5 739.5 342.5 739.5 340.5 739.5 339.5 741.5 339.5 743.5 339.5 745.5 339.5 747.5 340.5 748.5 342.5 748.5 343.5 748.5 344.5 747.5 345.5 745.5 344.5 744.5 343.5 743.5 342.5 742.5 340.5 743.5 339.5 744.5 339.5 745.5M350.5 739.5 349.5 739.5 348.5 741.5 347.5 743.5 347.5 744.5 348.5 746.5 349.5 748.5 350.5 748.5 351.5 748.5 352.5 748.5 353.5 746.5 353.5 744.5 353.5 743.5 353.5 741.5 352.5 739.5 351.5 739.5 350.5 739.5M386.5 739.5 382.5 748.5M380.5 739.5 386.5 739.5M391.5 739.5 390.5 739.5 389.5 741.5 389.5 743.5 389.5 744.5 389.5 746.5 390.5 748.5 391.5 748.5 392.5 748.5 393.5 748.5 394.5 746.5 395.5 744.5 395.5 743.5 394.5 741.5 393.5 739.5 392.5 739.5 391.5 739.5M423.5 739.5 422.5 739.5 421.5 740.5 421.5 741.5 422.5 742.5 423.5 742.5 424.5 743.5 426.5 743.5 427.5 744.5 427.5 745.5 427.5 746.5 427.5 747.5 426.5 748.5 425.5 748.5 423.5 748.5 422.5 748.5 421.5 747.5 421.5 746.5 421.5 745.5 421.5 744.5 422.5 743.5 424.5 743.5 425.5 742.5 426.5 742.5 427.5 741.5 427.5 740.5 426.5 739.5 425.5 739.5 423.5 739.5M432.5 739.5 431.5 739.5 430.5 741.5 430.5 743.5 430.5 744.5 430.5 746.5 431.5 748.5 432.5 748.5 433.5 748.5 435.5 748.5 435.5 746.5 436.5 744.5 436.5 743.5 435.5 741.5 435.5 739.5 433.5 739.5 432.5 739.5M468.5 742.5 467.5 743.5 467.5 744.5 465.5 745.5 463.5 744.5 463.5 743.5 462.5 742.5 463.5 740.5 463.5 739.5 465.5 739.5 467.5 739.5 467.5 740.5 468.5 742.5 468.5 744.5 467.5 746.5 467.5 748.5 465.5 748.5 464.5 748.5 463.5 748.5 463.5 747.5M474.5 739.5 472.5 739.5 471.5 741.5 471.5 743.5 471.5 744.5 471.5 746.5 472.5 748.5 474.5 748.5 476.5 748.5 477.5 746.5 477.5 744.5 477.5 743.5 477.5 741.5 476.5 739.5 474.5 739.5M500.5 741.5 501.5 740.5 502.5 739.5 502.5 748.5M510.5 739.5 509.5 739.5 508.5 741.5 508.5 743.5 508.5 744.5 508.5 746.5 509.5 748.5 510.5 748.5 511.5 748.5 513.5 748.5 513.5 746.5 514.5 744.5 514.5 743.5 513.5 741.5 513.5 739.5 511.5 739.5 510.5 739.5M519.5 739.5 518.5 739.5 517.5 741.5 516.5 743.5 516.5 744.5 517.5 746.5 518.5 748.5 519.5 748.5 520.5 748.5 521.5 748.5 522.5 746.5 523.5 744.5 523.5 743.5 522.5 741.5 521.5 739.5 520.5 739.5 519.5 739.5" fill="none" stroke="#000" stroke-width="1" stroke-linecap="square" stroke-linejoin="round"/>
<rect x="730" y="719" width="55" height="17" fill="#0000ff"/>
<rect x="785" y="719" width="54" height="17" fill="#6e6eff"/>
<rect x="839" y="719" width="55" height="17" fill="#c8c8ff"/>
<rect x="894" y="719" width="55" height="17" fill="#ffffff"/>
<rect x="949" y="719" width="55" height="17" fill="#ffc8c8"/>
<rect x="1004" y="719" width="55" height="17" fill="#ff6e6e"/>
<rect x="1059" y="719" width="55" height="17" fill="#ff0000"/>
<path d="M730 719L676 728L730 736Z" fill="#000064"/>
<path d="M1114 719L1171 728L1114 736Z" fill="#640000"/>
<path d="M676 728H730" stroke="#000064" stroke-width="1" fill="none"/><path d="M1114 728H1171" stroke="#640000" stroke-width="1" fill="none"/>
<path d="M730 719.5H1115M730 735.5H1115M730.5 719V736M785.5 719V736M839.5 719V736M894.5 719V736M949.5 719V736M1004.5 719V736M1059.5 719V736M1114.5 719V736" fill="none" stroke="#000" stroke-width="1"/>
<path d="M718.5 744.5 726.5 744.5M730.5 741.5 731.5 740.5 732.5 739.5 732.5 748.5M740.5 739.5 739.5 739.5 738.5 741.5 738.5 743.5 738.5 744.5 738.5 746.5 739.5 748.5 740.5 748.5 741.5 748.5 742.5 748.5 743.5 746.5 744.5 744.5 744.5 743.5 743.5 741.5 742.5 739.5 741.5 739.5 740.5 739.5M777.5 744.5 785.5 744.5M793.5 739.5 789.5 739.5 789.5 743.5 789.5 742.5 790.5 742.5 792.5 742.5 793.5 742.5 794.5 743.5 794.5 745.5 794.5 747.5 793.5 748.5 792.5 748.5 790.5 748.5 789.5 748.5 789.5 747.5 788.5 746.5M832.5 744.5 840.5 744.5M844.5 739.5 849.5 739.5 846.5 742.5 847.5 742.5 848.5 743.5 849.5 743.5 849.5 745.5 849.5 747.5 848.5 748.5 847.5 748.5 845.5 748.5 844.5 748.5 843.5 747.5 843.5 746.5M887.5 744.5 895.5 744.5M899.5 741.5 900.5 740.5 901.5 739.5 901.5 748.5M948.5 741.5 949.5 740.5 951.5 739.5 951.5 748.5M1003.5 739.5 1008.5 739.5 1005.5 742.5 1006.5 742.5 1007.5 743.5 1008.5 743.5 1008.5 745.5 1008.5 747.5 1007.5 748.5 1005.5 748.5 1004.5 748.5 1003.5 748.5 1002.5 747.5 1002.5 746.5M1062.5 739.5 1058.5 739.5 1057.5 743.5 1058.5 742.5 1059.5 742.5 1060.5 742.5 1062.5 742.5 1063.5 743.5 1063.5 745.5 1063.5 747.5 1062.5 748.5 1060.5 748.5 1059.5 748.5 1058.5 748.5 1057.5 747.5 1057.5 746.5M1109.5 741.5 1110.5 740.5 1111.5 739.5 1111.5 748.5M1119.5 739.5 1117.5 739.5 1117.5 741.5 1116.5 743.5 1116.5 744.5 1117.5 746.5 1117.5 748.5 1119.5 748.5 1120.5 748.5 1121.5 748.5 1122.5 746.5 1122.5 744.5 1122.5 743.5 1122.5 741.5 1121.5 739.5 1120.5 739.5 1119.5 739.5" fill="none" stroke="#000" stroke-width="1" stroke-linecap="square" stroke-linejoin="round"/>
<text class="t" x="308.7" y="37" font-size="20" text-anchor="middle">wp302018</text>
<text class="t" x="308.7" y="66" font-size="20" text-anchor="middle">09/30/18 06Z</text>
<text class="t" x="308.7" y="110" font-size="20" text-anchor="middle">0-120h 64kt Cum Wind Speed Probs (%)</text>
<text class="t" x="116" y="706" font-size="12" text-anchor="middle">120E</text>
<text class="t" x="160" y="706" font-size="12" text-anchor="middle">122E</text>
<text class="t" x="202" y="706" font-size="12" text-anchor="middle">124E</text>
<text class="t" x="246" y="706" font-size="12" text-anchor="middle">126E</text>
<text class="t" x="290" y="706" font-size="12" text-anchor="middle">128E</text>
<text class="t" x="332" y="706" font-size="12" text-anchor="middle">130E</text>
<text class="t" x="376" y="706" font-size="12" text-anchor="middle">132E</text>
<text class="t" x="420" y="706" font-size="12" text-anchor="middle">134E</text>
<text class="t" x="462" y="706" font-size="12" text-anchor="middle">136E</text>
<text class="t" x="506" y="706" font-size="12" text-anchor="middle">138E</text>
<text class="t" x="88" y="165" font-size="12" text-anchor="end">34N</text>
<text class="t" x="88" y="217" font-size="12" text-anchor="end">32N</text>
<text class="t" x="88" y="269" font-size="12" text-anchor="end">30N</text>
<text class="t" x="88" y="321" font-size="12" text-anchor="end">28N</text>
<text class="t" x="88" y="373" font-size="12" text-anchor="end">26N</text>
<text class="t" x="88" y="425" font-size="12" text-anchor="end">24N</text>
<text class="t" x="88" y="477" font-size="12" text-anchor="end">22N</text>
<text class="t" x="88" y="529" font-size="12" text-anchor="end">20N</text>
<text class="t" x="88" y="581" font-size="12" text-anchor="end">18N</text>
<text class="t" x="88" y="631" font-size="12" text-anchor="end">16N</text>
<text class="t" x="88" y="683" font-size="12" text-anchor="end">14N</text>
<text class="t" x="926.7" y="37" font-size="20" text-anchor="middle">wp302018</text>
<text class="t" x="926.7" y="66" font-size="20" text-anchor="middle">09/30/18 06Z</text>
<text class="t" x="926.7" y="110" font-size="20" text-anchor="middle">0-120h 64kt Cum Wind Speed Probs (%)</text>
<text class="t" x="734" y="706" font-size="12" text-anchor="middle">120E</text>
<text class="t" x="778" y="706" font-size="12" text-anchor="middle">122E</text>
<text class="t" x="820" y="706" font-size="12" text-anchor="middle">124E</text>
<text class="t" x="864" y="706" font-size="12" text-anchor="middle">126E</text>
<text class="t" x="908" y="706" font-size="12" text-anchor="middle">128E</text>
<text class="t" x="950" y="706" font-size="12" text-anchor="middle">130E</text>
<text class="t" x="994" y="706" font-size="12" text-anchor="middle">132E</text>
<text class="t" x="1038" y="706" font-size="12" text-anchor="middle">134E</text>
<text class="t" x="1080" y="706" font-size="12" text-anchor="middle">136E</text>
<text class="t" x="1124" y="706" font-size="12" text-anchor="middle">138E</text>
<text class="t" x="706" y="165" font-size="12" text-anchor="end">34N</text>
<text class="t" x="706" y="217" font-size="12" text-anchor="end">32N</text>
<text class="t" x="706" y="269" font-size="12" text-anchor="end">30N</text>
<text class="t" x="706" y="321" font-size="12" text-anchor="end">28N</text>
<text class="t" x="706" y="373" font-size="12" text-anchor="end">26N</text>
<text class="t" x="706" y="425" font-size="12" text-anchor="end">24N</text>
<text class="t" x="706" y="477" font-size="12" text-anchor="end">22N</text>
<text class="t" x="706" y="529" font-size="12" text-anchor="end">20N</text>
<text class="t" x="706" y="581" font-size="12" text-anchor="end">18N</text>
<text class="t" x="706" y="631" font-size="12" text-anchor="end">16N</text>
<text class="t" x="706" y="683" font-size="12" text-anchor="end">14N</text>
<text class="t" x="309.5" y="139" font-size="20" text-anchor="middle">NHC Err</text>
<text class="t" x="926.3" y="139" font-size="20" text-anchor="middle">NHC Err - Control</text>
<text class="t" x="98" y="749" font-size="13" text-anchor="middle">5</text>
<text class="t" x="140" y="749" font-size="13" text-anchor="middle">10</text>
<text class="t" x="181" y="749" font-size="13" text-anchor="middle">20</text>
<text class="t" x="222" y="749" font-size="13" text-anchor="middle">30</text>
<text class="t" x="263" y="749" font-size="13" text-anchor="middle">40</text>
<text class="t" x="304" y="749" font-size="13" text-anchor="middle">50</text>
<text class="t" x="346" y="749" font-size="13" text-anchor="middle">60</text>
<text class="t" x="387" y="749" font-size="13" text-anchor="middle">70</text>
<text class="t" x="428" y="749" font-size="13" text-anchor="middle">80</text>
<text class="t" x="469" y="749" font-size="13" text-anchor="middle">90</text>
<text class="t" x="511" y="749" font-size="13" text-anchor="middle">100</text>
<text class="t" x="730" y="749" font-size="13" text-anchor="middle">-10</text>
<text class="t" x="785" y="749" font-size="13" text-anchor="middle">-5</text>
<text class="t" x="840" y="749" font-size="13" text-anchor="middle">-3</text>
<text class="t" x="895" y="749" font-size="13" text-anchor="middle">-1</text>
<text class="t" x="950" y="749" font-size="13" text-anchor="middle">1</text>
<text class="t" x="1005" y="749" font-size="13" text-anchor="middle">3</text>
<text class="t" x="1059" y="749" font-size="13" text-anchor="middle">5</text>
<text class="t" x="1114" y="749" font-size="13" text-anchor="middle">10</text>
</svg></body></html>
